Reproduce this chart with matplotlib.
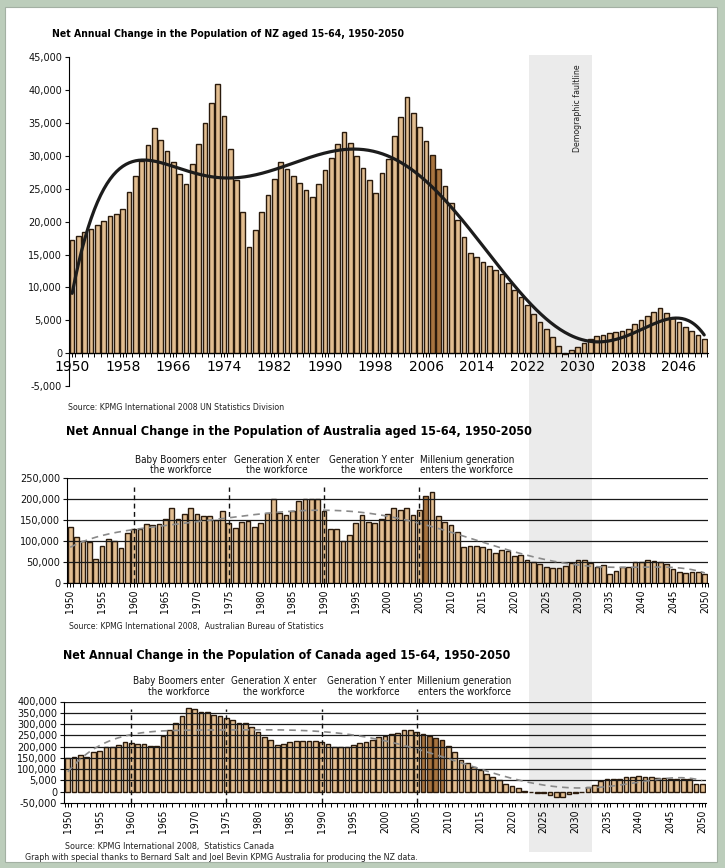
import os
import numpy as np
import matplotlib
matplotlib.use("Agg")
import matplotlib.pyplot as plt
from matplotlib.patches import Rectangle
from matplotlib import font_manager
from matplotlib.font_manager import FontProperties
from matplotlib.ticker import FuncFormatter, FixedLocator

# ---------------- data ----------------
years = list(range(1950, 2051))

nz_values = [
    17200, 17800, 18400, 18900, 19500, 20100, 20800, 21200, 21900, 24500,
    26900, 29300, 31600, 34200, 32400, 30700, 29000, 27300, 25700, 28800,
    31800, 35000, 38000, 41000, 36100, 31100, 26300, 21400, 16200, 18800,
    21400, 24000, 26500, 29000, 28000, 27000, 25900, 24800, 23700, 25700,
    27800, 29700, 31800, 33700, 32000, 30000, 28100, 26400, 24400, 27400,
    29600, 33000, 35900, 38900, 36500, 34400, 32200, 30100, 28000, 25400,
    22900, 20300, 17700, 15200, 14600, 13900, 13300, 12700, 12000, 10700,
    9600, 8500, 7300, 6000, 4800, 3600, 2400, 1100, -200, 500,
    900, 1600, 2200, 2600, 2800, 3000, 3200, 3400, 3600, 4400,
    5000, 5700, 6200, 6900, 6100, 5300, 4700, 3900, 3300, 2700,
    2200,
]

au_values = [
    134000, 110000, 100000, 98000, 57000, 88000, 104000, 100000, 84000, 118000,
    128000, 128000, 141000, 137000, 141000, 153000, 178000, 153000, 165000, 178000,
    165000, 160000, 160000, 149000, 171000, 142000, 130000, 145000, 148000, 134000,
    142000, 168000, 200000, 168000, 161000, 172000, 195000, 200000, 200000, 200000,
    172000, 128000, 128000, 100000, 114000, 142000, 161000, 145000, 142000, 153000,
    165000, 180000, 174000, 178000, 162000, 174000, 208000, 218000, 160000, 145000,
    137000, 121000, 85000, 88000, 89000, 85000, 80000, 72000, 78000, 77000,
    65000, 66000, 54000, 50000, 44000, 37000, 35000, 35000, 40000, 48000,
    54000, 54000, 46000, 38000, 42000, 21000, 27000, 37000, 38000, 50000,
    50000, 54000, 52000, 50000, 44000, 33000, 26000, 23000, 25000, 26000,
    20000,
]

ca_values = [
    147000, 155000, 161000, 152000, 175000, 181000, 196000, 199000, 205000, 218000,
    217000, 211000, 211000, 204000, 204000, 247000, 273000, 306000, 335000, 372000,
    365000, 352000, 352000, 341000, 335000, 328000, 318000, 306000, 303000, 285000,
    266000, 241000, 229000, 205000, 211000, 218000, 224000, 224000, 224000, 224000,
    220000, 210000, 199000, 199000, 199000, 205000, 214000, 220000, 229000, 241000,
    247000, 254000, 261000, 273000, 273000, 266000, 254000, 247000, 236000, 229000,
    204000, 177000, 140000, 125000, 107000, 96000, 76000, 63000, 51000, 33000,
    24000, 14000, 2000, -1000, -8000, -8000, -16000, -23000, -23000, -13000,
    -8000, -1000, 19000, 29000, 48000, 54000, 57000, 57000, 63000, 66000,
    69000, 66000, 66000, 61000, 58000, 57000, 54000, 54000, 54000, 33000,
    33000,
]

nz_label_years = list(range(1950, 2051, 8))
au_label_years = list(range(1950, 2051, 5))
ca_label_years = list(range(1950, 2051, 5))

gen_years = [1960, 1975, 1990, 2005]
gen_labels = [
    "Baby Boomers enter\nthe workforce",
    "Generation X enter\nthe workforce",
    "Generation Y enter\nthe workforce",
    "Millenium generation\nenters the workforce",
]

ca_tick_values = [-50000, 0, 50000, 100000, 150000, 200000, 250000, 300000, 350000, 400000]
ca_tick_labels = ["-50,000", "0", "5,000", "100,000", "150,000", "200,000",
                  "250,000", "300,000", "350,000", "400,000"]

nz_dark_years = [2007, 2008]
au_dark_years = [2006]
ca_dark_years = [2006, 2007, 2008, 2009]

nz_title = "Net Annual Change in the Population of NZ aged 15-64, 1950-2050"
au_title = "Net Annual Change in the Population of Australia aged 15-64, 1950-2050"
ca_title = "Net Annual Change in the Population of Canada aged 15-64, 1950-2050"
nz_source = "Source: KPMG International 2008 UN Statistics Division"
au_source = "Source: KPMG International 2008,  Australian Bureau of Statistics"
ca_source = "Source: KPMG International 2008,  Statistics Canada"
credit = ("Graph with special thanks to Bernard Salt and Joel Bevin KPMG Australia "
          "for producing the NZ data.")
band_label = "Demographic faultline"

# ---------------- fonts ----------------
def pick_font(bold):
    prefs = ["liberationsansnarrow", "dejavusanscondensed", "notosans-condensed",
             "notosans-semicondensed", "robotocondensed", "opensanscondensed",
             "opensans-condensed", "roboto_condensed"]
    files = []
    for f in font_manager.fontManager.ttflist:
        base = os.path.basename(f.fname).lower().replace(" ", "")
        if "italic" in base or "oblique" in base:
            continue
        is_bold = ("bold" in base) and ("semibold" not in base) and ("extrabold" not in base)
        if bold != is_bold:
            continue
        if not bold and any(k in base for k in ("light", "thin", "medium", "black", "semibold", "extrabold")):
            continue
        files.append((base, f.fname))
    for p in prefs:
        for base, path in files:
            if base.startswith(p):
                return FontProperties(fname=path)
    return FontProperties(family="Liberation Sans", weight="bold" if bold else "normal")


FP_BOLD = pick_font(True)
FP_REG = pick_font(False)

# ---------------- style ----------------
W, H = 725, 868
BAR_FILL = "#e2bd90"
BAR_DARK = "#a8743f"
BAR_EDGE = "#2a1a0c"

fig = plt.figure(figsize=(W / 100, H / 100), dpi=100)
fig.patch.set_facecolor("#bccdbb")


def fx(x):
    return x / W


def fy(y):
    return 1 - y / H


def add_ax(l, t, r, b):
    ax = fig.add_axes([l / W, 1 - b / H, (r - l) / W, (b - t) / H])
    ax.set_facecolor("none")
    ax.set_zorder(2)
    return ax


renderer = fig.canvas.get_renderer()


def fit_text(txt, width_px):
    for _ in range(4):
        bb = txt.get_window_extent(renderer=renderer)
        txt.set_fontsize(txt.get_fontsize() * width_px / bb.width)


def ftext(x, y, s, fp, size, width=None, **kw):
    t = fig.text(fx(x), fy(y), s, fontproperties=fp.copy(), **kw)
    t.set_fontsize(size)
    if width:
        fit_text(t, width)
    return t


# white panel and faultline band
fig.patches.append(Rectangle((fx(5), fy(862)), (717 - 5) / W, (862 - 7) / H,
                             transform=fig.transFigure, facecolor="white",
                             edgecolor="#a3b0a3", lw=0.8, zorder=0))
fig.patches.append(Rectangle((fx(529), fy(852)), (592 - 529) / W, (852 - 55) / H,
                             transform=fig.transFigure, facecolor="#ebebeb",
                             edgecolor="none", zorder=0.5))
ftext(578, 64, band_label, FP_REG, 6.3, width=None, rotation=90, ha="center",
      va="top", color="#222222", zorder=3)


def poly_trend(vals, deg=6):
    t = (np.array(years) - 2000) / 50.0
    coef = np.polyfit(t, np.array(vals, dtype=float), deg)
    xs = np.linspace(1950, 2050, 400)
    return xs, np.polyval(coef, (xs - 2000) / 50.0)


def draw_bars(ax, vals, dark_years):
    colors = [BAR_DARK if y in dark_years else BAR_FILL for y in years]
    ax.bar(years, vals, width=0.74, color=colors, edgecolor=BAR_EDGE,
           linewidth=1.0, zorder=2)


def style_common(ax, label_years, xsize=7.4, ylabel_size=7):
    for s in ("top", "right"):
        ax.spines[s].set_visible(False)
    ax.spines["left"].set_linewidth(0.8)
    ax.spines["bottom"].set_linewidth(0.8)
    ax.tick_params(axis="y", direction="out", length=3, width=0.8,
                   labelsize=ylabel_size, pad=2, colors="#111111")
    ax.set_xticks(label_years)
    ax.set_xticklabels([str(y) for y in label_years], rotation=90)
    for lab in ax.get_xticklabels():
        lab.set_fontproperties(FP_REG.copy())
        lab.set_fontsize(xsize)
    ax.set_xticks(np.arange(1949.5, 2051, 1), minor=True)
    ax.tick_params(axis="x", which="both", direction="out", length=3, width=0.7,
                   pad=2)


comma = FuncFormatter(lambda v, p: "{:,.0f}".format(v))

# ---------------- NZ ----------------
ax1 = add_ax(69, 57.3, 708, 386)
draw_bars(ax1, nz_values, nz_dark_years)
xs, ys = poly_trend(nz_values)
ax1.plot(xs, ys, color="#1c1c1c", lw=2.3, zorder=3, solid_capstyle="round")
ax1.set_xlim(1949.6, 2050.6)
ax1.set_ylim(-5000, 45000)
ax1.set_yticks(range(-5000, 45001, 5000))
ax1.yaxis.set_major_formatter(comma)
style_common(ax1, nz_label_years, xsize=7.0)
ax1.spines["bottom"].set_position(("data", 0))

ftext(52, 34, nz_title, FP_BOLD, 9, width=352, va="center", ha="left")
ftext(68, 407, nz_source, FP_REG, 5.5, width=217, va="center", ha="left",
      color="#222222")

# ---------------- Australia ----------------
ax2 = add_ax(67, 478.3, 708, 582.7)
draw_bars(ax2, au_values, au_dark_years)
for v in range(50000, 250001, 50000):
    ax2.axhline(v, color="#1a1a1a", lw=0.9, zorder=2.5)
xs, ys = poly_trend(au_values)
ax2.plot(xs, ys, color="#8a8a8a", lw=1.2, ls=(0, (4, 3)), zorder=3.5)
ax2.vlines(gen_years, 0, 228000, colors="#111111", linestyles=(0, (3.5, 2.5)),
           lw=1.0, zorder=4)
ax2.set_xlim(1949.6, 2050.5)
ax2.set_ylim(0, 250000)
ax2.set_yticks(range(0, 250001, 50000))
ax2.yaxis.set_major_formatter(comma)
style_common(ax2, au_label_years)


def gen_text(ax, frac):
    for gy, lab in zip(gen_years, gen_labels):
        t = ax.text(gy + 7.5, frac, lab, transform=ax.get_xaxis_transform(),
                    ha="center", va="center", linespacing=1.1,
                    color="#111111", clip_on=False, fontproperties=FP_REG.copy())
        t.set_fontsize(7.1)


gen_text(ax2, (582.7 - 465) / 104.4)

ftext(66, 431, au_title, FP_BOLD, 10, width=461, va="center", ha="left")
ftext(69, 627, au_source, FP_REG, 5.5, width=253, va="center", ha="left",
      color="#222222")

# ---------------- Canada ----------------
ax3 = add_ax(64, 701.5, 706, 802.75)
draw_bars(ax3, ca_values, ca_dark_years)
for v in range(50000, 400001, 50000):
    ax3.axhline(v, color="#1a1a1a", lw=0.9, zorder=2.5)
xs, ys = poly_trend(ca_values)
ax3.plot(xs, ys, color="#8a8a8a", lw=1.2, ls=(0, (4, 3)), zorder=3.5)
ax3.vlines(gen_years, -50000, 368000, colors="#111111", linestyles=(0, (3.5, 2.5)),
           lw=1.0, zorder=4)
ax3.set_xlim(1949.4, 2050.6)
ax3.set_ylim(-50000, 400000)
ax3.yaxis.set_major_locator(FixedLocator(ca_tick_values))
ax3.set_yticklabels(ca_tick_labels)
style_common(ax3, ca_label_years)
gen_text(ax3, (802.75 - 686.3) / 101.25)

ftext(63, 655, ca_title, FP_BOLD, 10, width=454, va="center", ha="left")
ftext(65, 846, ca_source, FP_REG, 5.5, width=208, va="center", ha="left",
      color="#222222")
ftext(25, 857, credit, FP_REG, 5.5, width=392, va="center", ha="left",
      color="#222222")

fig.savefig("out.png", dpi=100, facecolor=fig.get_facecolor())
